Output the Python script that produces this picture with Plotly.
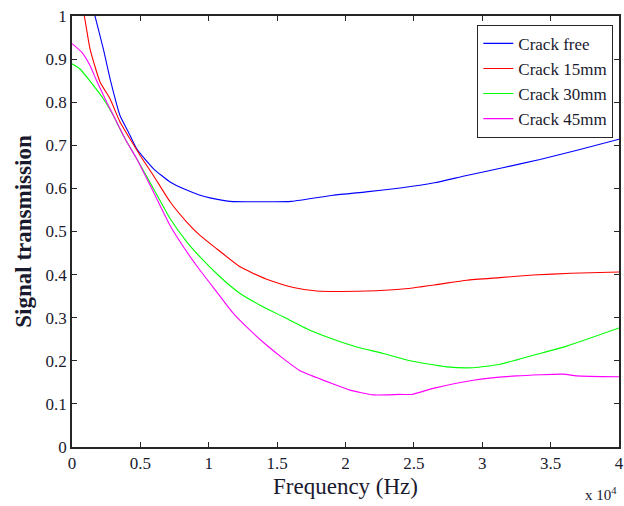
import plotly.graph_objects as go

# Frequency (Hz) and signal transmission values
freq_free = [0, 1000, 1682, 2290, 2840, 3510, 4120, 4730, 5950, 7170, 8390, 9360, 10090, 11550,
             14000, 16070, 19090, 21500, 24000, 26500, 28600, 31500, 34220, 37000, 40000]
val_free = [1.22, 1.09, 1.0, 0.924, 0.847, 0.769, 0.731, 0.692, 0.646, 0.615, 0.596, 0.584, 0.578, 0.570,
            0.569, 0.570, 0.584, 0.592, 0.601, 0.613, 0.628, 0.648, 0.667, 0.689, 0.714]

freq_15 = [0, 900, 1316, 2050, 2780, 3510, 4240, 4970, 5950, 7170, 8390, 9360, 10580, 12290,
           14240, 16190, 17890, 21550, 23990, 26500, 28860, 31300, 33730, 36500, 40000]
val_15 = [1.13, 1.0, 0.924, 0.847, 0.808, 0.754, 0.715, 0.677, 0.630, 0.569, 0.522, 0.491, 0.460, 0.418,
          0.389, 0.370, 0.362, 0.362, 0.366, 0.376, 0.387, 0.393, 0.399, 0.403, 0.406]

freq_30 = [0, 585, 1560, 2290, 3020, 3750, 4730, 5950, 7170, 8390, 9360, 10820, 12290, 13750,
           15450, 17400, 19110, 20820, 22760, 24720, 27400, 29350, 31300, 33730, 36170, 40000]
val_30 = [0.889, 0.877, 0.839, 0.808, 0.769, 0.723, 0.669, 0.600, 0.530, 0.476, 0.441, 0.395, 0.356, 0.329,
          0.302, 0.271, 0.250, 0.232, 0.217, 0.200, 0.186, 0.184, 0.192, 0.213, 0.234, 0.276]

freq_45 = [0, 710, 1316, 1800, 2540, 3270, 4000, 4730, 5950, 7170, 8390, 9360, 10580, 11800, 13020,
           14240, 15450, 16670, 17890, 19110, 20330, 22030, 23990, 24840, 26420, 29350, 32520,
           35930, 36900, 40000]
val_45 = [0.936, 0.916, 0.885, 0.850, 0.800, 0.754, 0.708, 0.669, 0.592, 0.514, 0.453, 0.410, 0.360, 0.310,
          0.271, 0.236, 0.205, 0.177, 0.161, 0.146, 0.132, 0.121, 0.122, 0.122, 0.136, 0.155, 0.165,
          0.169, 0.165, 0.163]

series_names = ["Crack free", "Crack 15mm", "Crack 30mm", "Crack 45mm"]
series_colors = ["#0000FF", "#FF0000", "#00FF00", "#FF00FF"]

x_tickvals = [0, 5000, 10000, 15000, 20000, 25000, 30000, 35000, 40000]
x_ticktext = ["0", "0.5", "1", "1.5", "2", "2.5", "3", "3.5", "4"]
y_tickvals = [0, 0.1, 0.2, 0.3, 0.4, 0.5, 0.6, 0.7, 0.8, 0.9, 1.0]
y_ticktext = ["0", "0.1", "0.2", "0.3", "0.4", "0.5", "0.6", "0.7", "0.8", "0.9", "1"]

serif = "Liberation Serif, Times New Roman, serif"
axis_col = "#262626"
text_col = "#1a1a2e"

fig = go.Figure()
for fx, fy, name, col in zip([freq_free, freq_15, freq_30, freq_45],
                             [val_free, val_15, val_30, val_45],
                             series_names, series_colors):
    fig.add_trace(go.Scatter(x=fx, y=fy, mode="lines", name=name,
                             line=dict(color=col, width=1.1, shape="spline", smoothing=0.5)))

fig.update_layout(
    width=624, height=506,
    margin=dict(l=72, r=5, t=15.5, b=59, autoexpand=False),
    paper_bgcolor="white", plot_bgcolor="white",
    font=dict(family=serif, color=text_col, size=17),
    showlegend=True,
    legend=dict(x=0.9896, y=0.9796, xanchor="right", yanchor="top",
                bgcolor="white", bordercolor=axis_col, borderwidth=1,
                font=dict(family=serif, size=17, color=text_col),
                tracegroupgap=0),
    xaxis=dict(range=[0, 40000], tickvals=x_tickvals, ticktext=x_ticktext,
               showline=True, linecolor=axis_col, linewidth=1.5, mirror="ticks",
               ticks="inside", ticklen=5, tickcolor=axis_col, tickwidth=1,
               showgrid=False, zeroline=False, automargin=False,
               tickfont=dict(family=serif, size=17, color=text_col),
               title=dict(text="Frequency (Hz)", font=dict(family=serif, size=23, color=text_col),
                          standoff=6)),
    yaxis=dict(range=[0, 1], tickvals=y_tickvals, ticktext=y_ticktext,
               showline=True, linecolor=axis_col, linewidth=1.5, mirror="ticks",
               ticks="inside", ticklen=5, tickcolor=axis_col, tickwidth=1,
               showgrid=False, zeroline=False, automargin=False,
               tickfont=dict(family=serif, size=17, color=text_col),
               title=dict(text="<b>Signal transmission</b>",
                          font=dict(family=serif, size=23, color=text_col), standoff=8)),
)

fig.add_annotation(x=1.0, y=-0.108, xref="paper", yref="paper",
                   text="x 10<sup>4</sup>", showarrow=False,
                   xanchor="right", yanchor="middle",
                   font=dict(family=serif, size=15, color=text_col))

fig.write_html("out.html")
